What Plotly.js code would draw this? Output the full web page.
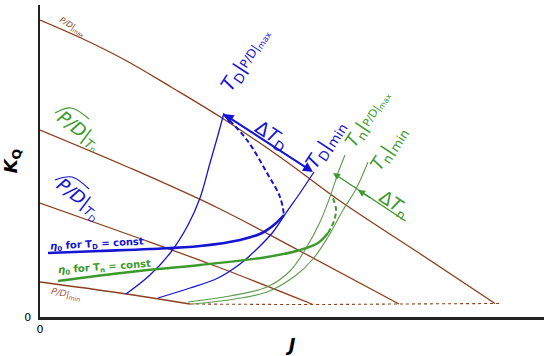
<!DOCTYPE html>
<html>
<head>
<meta charset="utf-8">
<script src="https://cdn.plot.ly/plotly-3.0.1.min.js"></script>
<style>
  body { margin: 0; background: #fff; }
  #chart { width: 550px; height: 356px; }
</style>
</head>
<body>
<div id="chart"></div>
<script>
// open-water diagram, values (J on x, K_Q on y)

// P/D curves (brown)
const jPDmax = [0, 0.082, 0.170, 0.262, 0.364, 0.480, 0.606, 0.758, 0.910];
const kqPDmax = [0.594, 0.558, 0.514, 0.460, 0.398, 0.320, 0.228, 0.128, 0.027];
const jPD2 = [0, 0.180, 0.356, 0.520, 0.718];
const kqPD2 = [0.374, 0.298, 0.218, 0.132, 0.026];
const jPD3 = [0, 0.180, 0.356, 0.546];
const kqPD3 = [0.228, 0.164, 0.100, 0.025];
const jPDmin = [0, 0.160, 0.300];
const kqPDmin = [0.070, 0.048, 0.026];
// dashed lower limit joining the curve ends
const jLimit = [0.300, 0.546, 0.718, 0.910, 0.918];
const kqLimit = [0.026, 0.025, 0.026, 0.027, 0.027];

// thrust curves T_D (blue)
const jTDmax = [0.172, 0.220, 0.262, 0.296, 0.320, 0.340, 0.356, 0.368];
const kqTDmax = [0.046, 0.084, 0.130, 0.184, 0.238, 0.308, 0.364, 0.408];
const jTDmin = [0.236, 0.300, 0.356, 0.400, 0.436, 0.466, 0.492, 0.520, 0.548];
const kqTDmin = [0.038, 0.058, 0.078, 0.106, 0.138, 0.170, 0.208, 0.248, 0.290];
const jTDnose = [0.368, 0.414, 0.454, 0.480, 0.488];
const kqTDnose = [0.404, 0.354, 0.288, 0.240, 0.204];
const jEtaTD = [0.016, 0.120, 0.220, 0.320, 0.400, 0.444, 0.470, 0.488];
const kqEtaTD = [0.128, 0.132, 0.136, 0.142, 0.154, 0.168, 0.186, 0.204];

// thrust curves T_n (green)
const jTnMax = [0.296, 0.380, 0.454, 0.500, 0.530, 0.560, 0.580, 0.596, 0.610];
const kqTnMax = [0.030, 0.042, 0.060, 0.092, 0.134, 0.190, 0.240, 0.288, 0.324];
const jTnMin = [0.306, 0.390, 0.454, 0.510, 0.546, 0.576, 0.606, 0.632, 0.656];
const kqTnMin = [0.026, 0.036, 0.050, 0.082, 0.116, 0.160, 0.214, 0.256, 0.310];
const jTnNose = [0.576, 0.588, 0.592, 0.584];
const kqTnNose = [0.168, 0.192, 0.216, 0.242];
const jEtaTn = [0.036, 0.180, 0.320, 0.454, 0.520, 0.556, 0.576];
const kqEtaTn = [0.072, 0.090, 0.104, 0.120, 0.134, 0.148, 0.168];

// arcs drawn over the two "P/D" labels
const jHatTn = [0.030, 0.062, 0.098];
const kqHatTn = [0.408, 0.418, 0.396];
const jHatTD = [0.030, 0.064, 0.098];
const kqHatTD = [0.274, 0.280, 0.256];

const brown = '#8b3f1c';
const blue = '#1414d2';
const green = '#3c9a2c';
const greenThin = '#5e9a4e';

function curve(x, y, color, width, dash) {
  return {
    x: x, y: y, type: 'scatter', mode: 'lines',
    line: { color: color, width: width, dash: dash || 'solid', shape: 'spline', smoothing: 1 },
    hoverinfo: 'skip'
  };
}

const data = [
  curve(jPDmax, kqPDmax, brown, 1.3),
  curve(jPD2, kqPD2, brown, 1.3),
  curve(jPD3, kqPD3, brown, 1.3),
  curve(jPDmin, kqPDmin, brown, 1.3),
  curve(jLimit, kqLimit, brown, 1.1, '3px,3px'),
  curve(jTDmax, kqTDmax, blue, 1.3),
  curve(jTDmin, kqTDmin, blue, 1.3),
  curve(jTDnose, kqTDnose, blue, 2, '5px,3px'),
  curve(jEtaTD, kqEtaTD, blue, 2.6),
  curve(jTnMax, kqTnMax, greenThin, 1.1),
  curve(jTnMin, kqTnMin, greenThin, 1.1),
  curve(jTnNose, kqTnNose, green, 2, '5px,3px'),
  curve(jEtaTn, kqEtaTn, green, 2.4),
  curve(jHatTn, kqHatTn, green, 1.2),
  curve(jHatTD, kqHatTD, blue, 1.2)
];

const F = 'DejaVu Sans, Verdana, sans-serif';

function label(x, y, text, color, size, angle, extra) {
  return Object.assign({
    x: x, y: y, xref: 'x', yref: 'y', text: text, showarrow: false,
    textangle: angle, font: { family: F, size: size, color: color }
  }, extra || {});
}

function arrow(x, y, ax, ay, color, width, side) {
  return {
    x: x, y: y, ax: ax, ay: ay, xref: 'x', yref: 'y', axref: 'x', ayref: 'y',
    text: '', showarrow: true, arrowhead: 2, startarrowhead: 2, arrowsize: 1,
    startarrowsize: 1, arrowwidth: width, arrowcolor: color, arrowside: side
  };
}

const annotations = [
  label(0.064, 0.580, '<i>P/D</i>|<sub>max</sub>', brown, 8, 32),
  label(0.052, 0.046, '<i>P/D</i>|<sub>min</sub>', '#b5503a', 9, 12),
  label(0.078, 0.372, '<i>P/D</i>|<sub><i>T</i>ₙ</sub>', green, 18, 37),
  label(0.078, 0.236, '<i>P/D</i>|<sub><i>T</i><sub>D</sub></sub>', blue, 18, 37),
  label(0.016, 0.146, '<b><i>η</i><sub>0</sub> for T<sub>D</sub> = const</b>', blue, 10, -3, { xanchor: 'left' }),
  label(0.032, 0.099, '<b><i>η</i><sub>0</sub> for T<sub>n</sub> = const</b>', green, 10, -4, { xanchor: 'left' }),
  label(0.410, 0.514, '<i>T</i><sub>D</sub>|<span style="font-size:12px">P/D|<sub>max</sub></span>', blue, 19, -57),
  label(0.570, 0.344, '<i>T</i><sub>D</sub>|<sub>min</sub>', blue, 19, -57),
  label(0.656, 0.396, '<i>T</i><sub>n</sub>|<span style="font-size:11px">P/D|<sub>max</sub></span>', green, 18, -57),
  label(0.698, 0.336, '<i>T</i><sub>n</sub>|<sub>min</sub>', green, 18, -57),
  label(0.462, 0.364, 'Δ<i>T</i><sub>D</sub>', blue, 19, 33),
  label(0.706, 0.226, 'Δ<i>T</i><sub>n</sub>', green, 18, 33),
  arrow(0.546, 0.290, 0.364, 0.408, blue, 2, 'end+start'),
  arrow(0.586, 0.288, 0.734, 0.190, green, 1.4, 'end'),
  arrow(0.636, 0.254, 0.664, 0.236, green, 1.4, 'end')
];

const layout = {
  width: 550, height: 356,
  margin: { l: 40, r: 6, t: 5, b: 39 },
  paper_bgcolor: '#fff', plot_bgcolor: '#fff',
  showlegend: false, hovermode: false,
  xaxis: {
    range: [0, 1.008], showgrid: false, zeroline: false,
    showline: true, linecolor: '#222', linewidth: 2.5,
    tickvals: [0], ticktext: ['0'], ticks: '',
    tickfont: { family: F, size: 11, color: '#000' },
    title: { text: '<b><i>J</i></b>', font: { family: F, size: 18, color: '#000' }, standoff: 4 }
  },
  yaxis: {
    range: [0, 0.624], showgrid: false, zeroline: false,
    showline: true, linecolor: '#222', linewidth: 2.5,
    tickvals: [0], ticktext: ['0'], ticks: '', ticklabelstandoff: 4,
    tickfont: { family: F, size: 11, color: '#000' },
    title: { text: '<b><i>K</i><sub>Q</sub></b>', font: { family: F, size: 18, color: '#000' }, standoff: 2 }
  },
  annotations: annotations
};

Plotly.newPlot('chart', data, layout, { staticPlot: true, displayModeBar: false });
</script>
</body>
</html>
